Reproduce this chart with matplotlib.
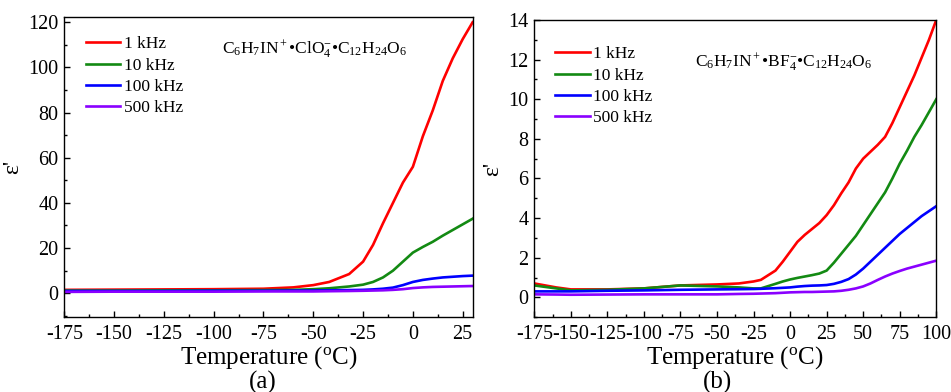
import numpy as np
import matplotlib
matplotlib.use("Agg")
import matplotlib.pyplot as plt
from matplotlib.ticker import MultipleLocator

plt.rcParams['font.family'] = ['Liberation Serif', 'DejaVu Serif']
plt.rcParams['mathtext.fontset'] = 'custom'
plt.rcParams['mathtext.rm'] = 'Liberation Serif'
plt.rcParams['mathtext.it'] = 'Liberation Serif:italic'
plt.rcParams['axes.unicode_minus'] = False

labels = ['1 kHz', '10 kHz', '100 kHz', '500 kHz']
colors = ['#ff0000', '#138a13', '#0000ff', '#8a00ff']

# panel (a): C6H7IN+ ClO4- 18-crown-6
temp_a = [-175, -150, -125, -100, -75, -60, -50, -42, -32, -25, -20, -15, -10,
          -5, 0, 5, 10, 15, 20, 25, 30]
eps_a = [
    [1.5, 1.6, 1.7, 1.8, 2.0, 2.6, 3.6, 5.0, 8.5, 14, 21.4, 31, 40, 49, 56, 69.5, 81, 94, 104, 112.5, 120],
    [1.2, 1.2, 1.3, 1.3, 1.4, 1.5, 1.8, 2.2, 3.0, 3.8, 5.0, 7.0, 10, 14, 18, 20.5, 22.8, 25.5, 28, 30.5, 33],
    [1.0, 1.0, 1.0, 1.1, 1.1, 1.2, 1.2, 1.3, 1.4, 1.5, 1.7, 2.0, 2.5, 3.6, 5.0, 5.9, 6.5, 7.0, 7.3, 7.6, 7.8],
    [0.6, 0.7, 0.7, 0.7, 0.8, 0.8, 0.8, 0.9, 1.0, 1.1, 1.2, 1.3, 1.5, 1.8, 2.3, 2.6, 2.8, 2.9, 3.0, 3.1, 3.2],
]

# panel (b): C6H7IN+ BF4- 18-crown-6
temp_b = [-175, -160, -150, -125, -100, -75, -50, -35, -25, -20, -10, -5, 0, 5, 10,
          15, 20, 25, 30, 35, 40, 45, 50, 55, 60, 65, 70, 75, 80, 85, 90, 95, 100]
eps_b = [
    [0.70, 0.50, 0.40, 0.40, 0.45, 0.60, 0.65, 0.70, 0.80, 0.88, 1.35, 1.80, 2.30, 2.80, 3.15,
     3.45, 3.75, 4.15, 4.65, 5.25, 5.80, 6.50, 7.00, 7.35, 7.70, 8.10, 8.80, 9.60, 10.4, 11.2,
     12.1, 13.0, 14.0],
    [0.60, 0.45, 0.35, 0.38, 0.45, 0.60, 0.55, 0.50, 0.45, 0.45, 0.68, 0.80, 0.90, 0.98, 1.05,
     1.12, 1.20, 1.35, 1.75, 2.20, 2.65, 3.10, 3.65, 4.20, 4.75, 5.30, 6.00, 6.75, 7.40, 8.10,
     8.70, 9.35, 10.0],
    [0.30, 0.30, 0.30, 0.33, 0.35, 0.38, 0.40, 0.41, 0.42, 0.43, 0.46, 0.48, 0.50, 0.54, 0.57,
     0.59, 0.60, 0.62, 0.68, 0.78, 0.92, 1.15, 1.45, 1.80, 2.15, 2.50, 2.85, 3.20, 3.50, 3.80,
     4.10, 4.35, 4.60],
    [0.15, 0.14, 0.13, 0.14, 0.15, 0.15, 0.15, 0.17, 0.18, 0.19, 0.21, 0.23, 0.25, 0.26, 0.27,
     0.27, 0.28, 0.29, 0.30, 0.33, 0.38, 0.45, 0.55, 0.70, 0.88, 1.05, 1.20, 1.33, 1.45, 1.55,
     1.65, 1.75, 1.85],
]

fig = plt.figure(figsize=(9.51, 3.92), dpi=100)
ax_a = fig.add_axes([0.0676, 0.192, 0.4294, 0.764])
ax_b = fig.add_axes([0.5618, 0.191, 0.4227, 0.758])


def style_axes(ax, xlim, ylim, xmaj, ymaj, xticks):
    ax.set_xlim(*xlim)
    ax.set_ylim(*ylim)
    ax.set_xticks(xticks)
    ax.xaxis.set_minor_locator(MultipleLocator(xmaj / 2))
    ax.yaxis.set_major_locator(MultipleLocator(ymaj))
    ax.yaxis.set_minor_locator(MultipleLocator(ymaj / 2))
    ax.tick_params(which='both', direction='in', top=False, right=False, labelsize=14.5, width=1)
    ax.tick_params(which='major', length=4.5)
    ax.tick_params(which='minor', length=2.5)
    ax.tick_params(axis='x', pad=6)
    ax.tick_params(axis='y', pad=4)
    for sp in ax.spines.values():
        sp.set_linewidth(1.0)
    ax.set_xlabel('Temperature ($^{\\mathrm{o}}$C)', fontsize=18, labelpad=0)
    ax.set_ylabel("\u03b5'", fontsize=17, labelpad=4)


for ax, temp, eps in [(ax_a, temp_a, eps_a), (ax_b, temp_b, eps_b)]:
    for vals, lab, c in zip(eps, labels, colors):
        ax.plot(temp, vals, color=c, lw=1.9, label=lab)

style_axes(ax_a, (-175, 30), (-10.4, 122.2), 25, 20, [-175, -150, -125, -100, -75, -50, -25, 0, 25])
style_axes(ax_b, (-175, 100), (-1, 14), 25, 2,
           [-175, -150, -125, -100, -75, -50, -25, 0, 25, 50, 75, 100])

ax_a.legend(loc='upper left', bbox_to_anchor=(0.035, 0.96), frameon=False, fontsize=12.5,
            handlelength=2.0, handletextpad=0.2, labelspacing=0.3, borderaxespad=0)
ax_b.legend(loc='upper left', bbox_to_anchor=(0.035, 0.935), frameon=False, fontsize=12.5,
            handlelength=2.0, handletextpad=0.2, labelspacing=0.3, borderaxespad=0)

ax_a.text(0.386, 0.895, 'C$_6$H$_7$IN$^+$\u2022ClO$_4^{-}$\u2022C$_{12}$H$_{24}$O$_6$',
          transform=ax_a.transAxes, fontsize=12.5, va='center', ha='left')
ax_b.text(0.40, 0.858, 'C$_6$H$_7$IN$^+$\u2022BF$_4^{-}$\u2022C$_{12}$H$_{24}$O$_6$',
          transform=ax_b.transAxes, fontsize=12.5, va='center', ha='left')

fig.text(263 / 951, 1 - 382 / 392, '(a)', fontsize=18, ha='center', va='center')
fig.text(718 / 951, 1 - 382 / 392, '(b)', fontsize=18, ha='center', va='center')

fig.savefig('out.png', dpi=100)
